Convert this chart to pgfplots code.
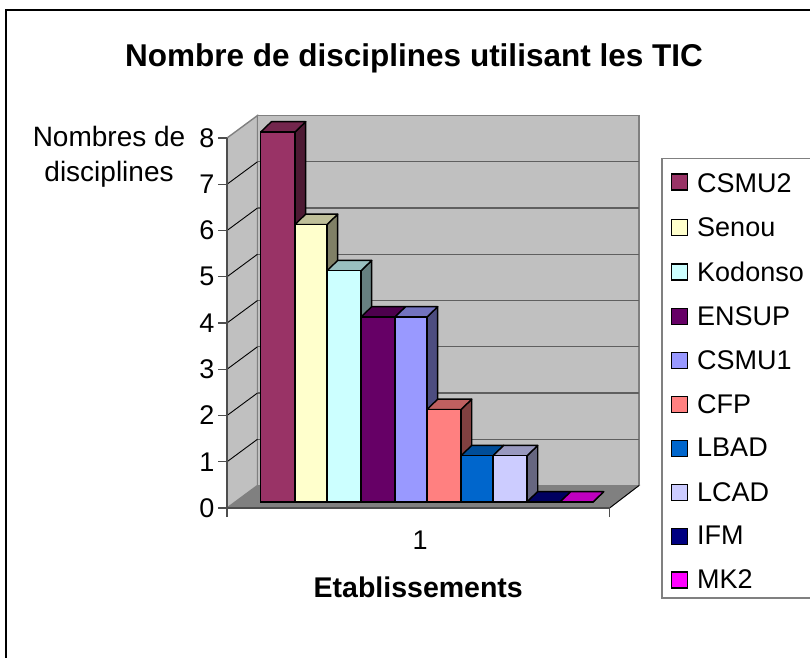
\documentclass[border=0pt]{standalone}
\usepackage{fontspec}
\setmainfont{Liberation Sans}
\usepackage{pgfplots}
\pgfplotsset{compat=1.18}
\definecolor{wallgray}{HTML}{C0C0C0}
\definecolor{edgegray}{HTML}{808080}
\definecolor{gridgray}{HTML}{5F5F5F}
\definecolor{axisgray}{HTML}{4D4D4D}
\definecolor{cA}{HTML}{993366}\definecolor{cAs}{HTML}{4D1A33}\definecolor{cAt}{HTML}{73264D}
\definecolor{cB}{HTML}{FFFFCC}\definecolor{cBs}{HTML}{808066}\definecolor{cBt}{HTML}{BFBF99}
\definecolor{cC}{HTML}{CCFFFF}\definecolor{cCs}{HTML}{668080}\definecolor{cCt}{HTML}{99BFBF}
\definecolor{cD}{HTML}{660066}\definecolor{cDs}{HTML}{330033}\definecolor{cDt}{HTML}{4D004D}
\definecolor{cE}{HTML}{9999FF}\definecolor{cEs}{HTML}{4D4D80}\definecolor{cEt}{HTML}{7373BF}
\definecolor{cF}{HTML}{FF8080}\definecolor{cFs}{HTML}{804040}\definecolor{cFt}{HTML}{BF6060}
\definecolor{cG}{HTML}{0066CC}\definecolor{cGs}{HTML}{003366}\definecolor{cGt}{HTML}{004D99}
\definecolor{cH}{HTML}{CCCCFF}\definecolor{cHs}{HTML}{666680}\definecolor{cHt}{HTML}{9999BF}
\definecolor{cI}{HTML}{000080}\definecolor{cIs}{HTML}{000040}\definecolor{cIt}{HTML}{000060}
\definecolor{cJ}{HTML}{FF00FF}\definecolor{cJs}{HTML}{800080}\definecolor{cJt}{HTML}{BF00BF}
\pgfplotsset{
  frontbar/.style={ybar,/pgf/bar shift=0pt,fill=#1,draw=black,line width=1.4pt,
    legend image code/.code={\draw[draw=black,line width=1.4pt,fill=#1] (0pt,-8pt) rectangle (16pt,8pt);\path (23pt,0pt);}},
  firstkey/.style={legend image code/.code={\draw[draw=black,line width=1.4pt,fill=cA] (0pt,-10pt) rectangle (16pt,6pt);\path (23pt,0pt);}},
  face/.style={forget plot,fill=#1,draw=black,line width=1.4pt,line join=round,no marks},
}
\def\extra{}
% left, right, value, front, side, top, name
\newcommand{\threedbar}[7]{%
  \pgfmathsetmacro{\cc}{(#1+#2)/2}%
  \pgfmathsetmacro{\ww}{#2-#1}%
  \pgfmathsetmacro{\ld}{#1+0.322}%
  \pgfmathsetmacro{\rd}{#2+0.322}%
  \pgfmathsetmacro{\vd}{#3+0.223}%
  \pgfmathsetmacro{\bd}{0.223}%
  \addplot[face=#5] coordinates {(#2,0)(\rd,\bd)(\rd,\vd)(#2,#3)} -- cycle;
  \addplot[face=#6] coordinates {(#1,#3)(#2,#3)(\rd,\vd)(\ld,\vd)} -- cycle;
  \edef\tmp{\noexpand\addplot[frontbar=#4,\extra,bar width=\ww] coordinates {(\cc,#3)};}\tmp
  \addlegendentry{\makebox[135pt][l]{#7}}%
}
\begin{document}
\begin{tikzpicture}
\path[use as bounding box] (0,0) rectangle (810pt,657pt);
\clip (0,0) rectangle (810pt,657pt);
\begin{axis}[
  at={(0pt,0pt)},anchor=south west,scale only axis,width=810pt,height=657pt,
  axis lines=none,
  xmin=-7.8452,xmax=16.5301,ymin=-3.3514,ymax=10.8541,
  unbounded coords=jump,
  legend cell align=left,
  legend style={at={(0.8162,0.7595)},anchor=north west,draw=edgegray,line width=1.4pt,
    fill=white,font=\fontsize{27}{27}\selectfont,row sep=19.7pt,inner xsep=9pt,inner ysep=5.5pt},
]
% page frame
\addplot[forget plot,black,line width=2pt,no marks] coordinates {(-7.65,-5)(-7.65,10.64)(20,10.64)};
% floor and walls
\addplot[forget plot,fill=edgegray,draw=edgegray,line width=1pt,no marks] coordinates {(-1.014,-0.13)(10.497,-0.13)(11.384,0.357)(-0.096,0.357)} -- cycle;
\addplot[forget plot,fill=wallgray,draw=edgegray,line width=1.4pt,no marks] coordinates {(-1.014,-0.13)(-0.096,0.357)(-0.096,8.357)(-1.014,7.87)} -- cycle;
\addplot[forget plot,fill=wallgray,draw=edgegray,line width=1.6pt,no marks] coordinates {(-0.096,0.357)(11.384,0.357)(11.384,8.357)(-0.096,8.357)} -- cycle;
% gridlines on the back wall
\addplot[forget plot,gridgray,line width=1.3pt,no marks] coordinates {
 (-0.096,1.357)(11.384,1.357)(nan,nan)(-0.096,2.357)(11.384,2.357)(nan,nan)
 (-0.096,3.357)(11.384,3.357)(nan,nan)(-0.096,4.357)(11.384,4.357)(nan,nan)
 (-0.096,5.357)(11.384,5.357)(nan,nan)(-0.096,6.357)(11.384,6.357)(nan,nan)
 (-0.096,7.357)(11.384,7.357)};
% slanted gridlines on the side wall and floor edge
\addplot[forget plot,black,line width=0.9pt,no marks] coordinates {
 (-1.014,0.87)(-0.096,1.357)(nan,nan)(-1.014,1.87)(-0.096,2.357)(nan,nan)
 (-1.014,2.87)(-0.096,3.357)(nan,nan)(-1.014,3.87)(-0.096,4.357)(nan,nan)
 (-1.014,4.87)(-0.096,5.357)(nan,nan)(-1.014,5.87)(-0.096,6.357)(nan,nan)
 (-1.014,6.87)(-0.096,7.357)(nan,nan)(10.497,-0.13)(11.384,0.357)};
\def\extra{firstkey}
\threedbar{0}{1.032}{8}{cA}{cAs}{cAt}{\rule{0pt}{26pt}CSMU2}
\def\extra{}
\threedbar{1.032}{1.995}{6}{cB}{cBs}{cBt}{Senou}
\threedbar{1.995}{3.018}{5}{cC}{cCs}{cCt}{Kodonso}
\threedbar{3.018}{4.041}{4}{cD}{cDs}{cDt}{ENSUP}
\threedbar{4.041}{5.004}{4}{cE}{cEs}{cEt}{CSMU1}
\threedbar{5.004}{6.028}{2}{cF}{cFs}{cFt}{CFP}
\threedbar{6.028}{6.991}{1}{cG}{cGs}{cGt}{LBAD}
\threedbar{6.991}{8.014}{1}{cH}{cHs}{cHt}{LCAD}
\threedbar{8.014}{9.007}{0}{cI}{cIs}{cIt}{IFM}
\threedbar{9.007}{10}{0}{cJ}{cJs}{cJt}{MK2}
\node[font=\fontsize{31.5}{32}\selectfont\bfseries] at (rel axis cs:0.5111,0.9118) {Nombre de disciplines utilisant les TIC};
\node[font=\fontsize{28}{35}\selectfont,align=center] at (rel axis cs:0.1346,0.7613) {Nombres de\\disciplines};
\end{axis}
\begin{axis}[
  at={(227pt,149pt)},anchor=south west,scale only axis,width=382.5pt,height=370pt,
  xmin=0,xmax=2,ymin=0,ymax=8,
  axis x line=bottom,axis y line=left,
  axis line style={-,draw=axisgray,line width=1.4pt},
  tick style={draw=axisgray,line width=1.4pt},
  major tick length=9pt,tick align=outside,
  ytick={0,1,2,3,4,5,6,7,8},
  xtick={0,2},xticklabels={,},
  extra x ticks={1},extra x tick labels={1},
  extra x tick style={major tick length=0pt},
  tick label style={font=\fontsize{27}{27}\selectfont},
  yticklabel style={/pgf/number format/assume math mode=true},
  xticklabel style={/pgf/number format/assume math mode=true,yshift=-19pt,xshift=2pt},
  xlabel={\textbf{Etablissements}},
  xlabel style={font=\fontsize{28.5}{28.5}\selectfont,yshift=-12pt},
]
\end{axis}
\end{tikzpicture}
\end{document}
